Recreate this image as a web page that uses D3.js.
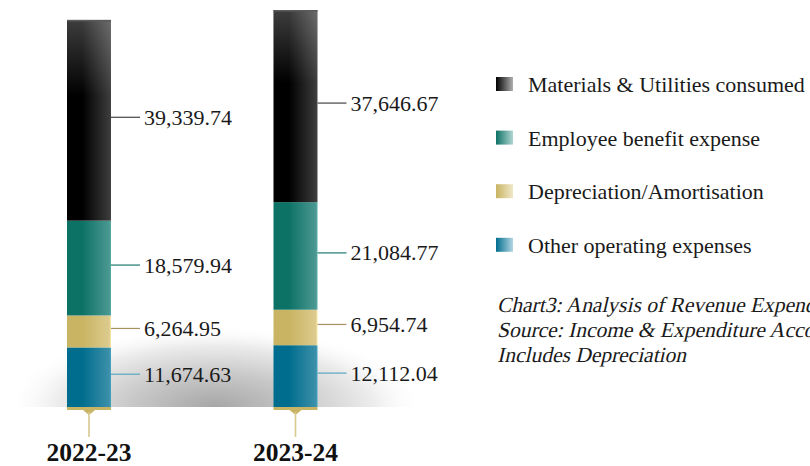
<!DOCTYPE html>
<html>
<head>
<meta charset="utf-8">
<script src="https://cdn.jsdelivr.net/npm/d3@7/dist/d3.min.js"></script>
<style>
  html, body { margin: 0; padding: 0; background: #ffffff; overflow: hidden; }
  svg { display: block; font-family: "Liberation Serif", "DejaVu Serif", serif; }
</style>
</head>
<body>
<svg id="chart" width="810" height="466"></svg>
<script>
// ---- data ----
const categories = ["2022-23", "2023-24"];
const seriesNames = ["Materials & Utilities consumed", "Employee benefit expense", "Depreciation/Amortisation", "Other operating expenses"];
const materials = [39339.74, 37646.67];
const employee = [18579.94, 21084.77];
const depreciation = [6264.95, 6954.74];
const otherExp = [11674.63, 12112.04];
const captionLines = ["Chart3: Analysis of Revenue Expenditure", "Source: Income & Expenditure Account", "Includes Depreciation"];

// ---- styles ----
const keys = ["other", "depreciation", "employee", "materials"]; // bottom -> top
const seriesMeta = {
  materials:    { name: seriesNames[0], c0: "#000000", c1: "#3a3a3a", sw1: "#b0b0b0", line: "#444444" },
  employee:     { name: seriesNames[1], c0: "#0d7266", c1: "#4a9891", sw1: "#b0d6d2", line: "#1a7a70" },
  depreciation: { name: seriesNames[2], c0: "#c8b462", c1: "#dccb8e", sw1: "#f0e8c8", line: "#a89060" },
  other:        { name: seriesNames[3], c0: "#006d8e", c1: "#3c8fa9", sw1: "#b4d6e3", line: "#5aa6c0" }
};

const table = categories.map((c, i) => ({
  cat: c, materials: materials[i], employee: employee[i], depreciation: depreciation[i], other: otherExp[i]
}));

const svg = d3.select("#chart");
const defs = svg.append("defs");

Object.entries(seriesMeta).forEach(([k, m]) => {
  const g = defs.append("linearGradient").attr("id", "bar-" + k).attr("x1", 0).attr("x2", 1).attr("y1", 0).attr("y2", 0);
  g.append("stop").attr("offset", "0%").attr("stop-color", m.c0);
  g.append("stop").attr("offset", "35%").attr("stop-color", m.c0);
  g.append("stop").attr("offset", "96%").attr("stop-color", m.c1);
  g.append("stop").attr("offset", "100%").attr("stop-color", d3.color(m.c1).brighter(0.4));
  const s = defs.append("linearGradient").attr("id", "sw-" + k).attr("x1", 0).attr("x2", 1).attr("y1", 0).attr("y2", 0);
  s.append("stop").attr("offset", "0%").attr("stop-color", m.c0);
  s.append("stop").attr("offset", "100%").attr("stop-color", m.sw1);
});
const hl = defs.append("linearGradient").attr("id", "topHighlight").attr("x1", 0).attr("x2", 0).attr("y1", 0).attr("y2", 1);
hl.append("stop").attr("offset", "0%").attr("stop-color", "#ffffff").attr("stop-opacity", 0.24);
hl.append("stop").attr("offset", "38%").attr("stop-color", "#ffffff").attr("stop-opacity", 0);

const sh = defs.append("radialGradient").attr("id", "shadow");
sh.append("stop").attr("offset", "0%").attr("stop-color", "#a6a6a6");
sh.append("stop").attr("offset", "40%").attr("stop-color", "#c8c8c8");
sh.append("stop").attr("offset", "75%").attr("stop-color", "#ececec");
sh.append("stop").attr("offset", "100%").attr("stop-color", "#ffffff").attr("stop-opacity", 0);
defs.append("clipPath").attr("id", "shadowClip").append("rect").attr("x", 0).attr("y", 300).attr("width", 460).attr("height", 107);

// ---- scales ----
const x = d3.scalePoint().domain(categories).range([89, 295.5]);
const barW = 44;
const y = d3.scaleLinear().domain([0, 78000]).range([407, 9]);

const stack = d3.stack().keys(keys);
const layers = stack(table);

svg.append("ellipse")
  .attr("cx", 215).attr("cy", 407).attr("rx", 210).attr("ry", 82)
  .attr("fill", "url(#shadow)").attr("clip-path", "url(#shadowClip)");

const gLayers = svg.append("g").selectAll("g").data(layers).join("g");
gLayers.selectAll("rect.seg").data(d => d.map(v => ({ key: d.key, v }))).join("rect")
  .attr("class", "seg")
  .attr("x", d => x(d.v.data.cat) - barW / 2)
  .attr("width", barW)
  .attr("y", d => y(d.v[1]))
  .attr("height", d => y(d.v[0]) - y(d.v[1]))
  .attr("fill", d => "url(#bar-" + d.key + ")");

const topLayer = layers.find(l => l.key === "materials");
svg.append("g").selectAll("rect").data(topLayer).join("rect")
  .attr("x", d => x(d.data.cat) - barW / 2)
  .attr("width", barW)
  .attr("y", d => y(d[1]))
  .attr("height", d => y(d[0]) - y(d[1]))
  .attr("fill", "url(#topHighlight)");
svg.append("g").selectAll("rect").data(topLayer).join("rect")
  .attr("x", d => x(d.data.cat) - barW / 2)
  .attr("width", barW)
  .attr("y", d => y(d[1]))
  .attr("height", 1.5)
  .attr("fill", "#5a5a5a");

const fmt = d3.format(",.2f");
layers.forEach(layer => {
  const m = seriesMeta[layer.key];
  const g = svg.append("g");
  layer.forEach(d => {
    const cy = (y(d[0]) + y(d[1])) / 2 - 3;
    const xr = x(d.data.cat) + barW / 2;
    g.append("line").attr("x1", xr).attr("x2", xr + 29).attr("y1", cy).attr("y2", cy)
      .attr("stroke", m.line).attr("stroke-width", 1.2);
    g.append("text").attr("x", xr + 33).attr("y", cy + 7.5)
      .attr("font-size", 22).attr("fill", "#1a1a1a")
      .text(fmt(d.data[layer.key]));
  });
});

const mk = svg.append("g");
categories.forEach(c => {
  const cx = x(c);
  mk.append("rect").attr("x", cx - barW / 2).attr("y", 407).attr("width", barW).attr("height", 3).attr("fill", "#c9b466");
  mk.append("path").attr("d", `M${cx - 6},410 L${cx + 6},410 L${cx},415 Z`).attr("fill", "#c9b466");
  mk.append("line").attr("x1", cx).attr("x2", cx).attr("y1", 412).attr("y2", 437)
    .attr("stroke", "#d8c990").attr("stroke-width", 1.6);
  mk.append("text").attr("x", cx).attr("y", 461).attr("text-anchor", "middle")
    .attr("font-size", 25.5).attr("font-weight", "bold").attr("fill", "#111")
    .text(c);
});

const legendOrder = ["materials", "employee", "depreciation", "other"];
const lg = svg.append("g");
legendOrder.forEach((k, i) => {
  const cy = 84 + i * 53.6;
  lg.append("rect").attr("x", 496).attr("y", cy - 7).attr("width", 17).attr("height", 14)
    .attr("fill", "url(#sw-" + k + ")");
  lg.append("text").attr("x", 528).attr("y", cy + 8).attr("font-size", 22).attr("fill", "#1a1a1a")
    .text(seriesMeta[k].name);
});

// caption: serif text slanted to mimic the italic face
const cap = svg.append("g").attr("font-size", 21.5).attr("fill", "#1a1a1a");
captionLines.forEach((t, i) => {
  cap.append("text")
    .attr("transform", `translate(497,${312 + i * 25}) skewX(-13)`)
    .text(t);
});
</script>
</body>
</html>
